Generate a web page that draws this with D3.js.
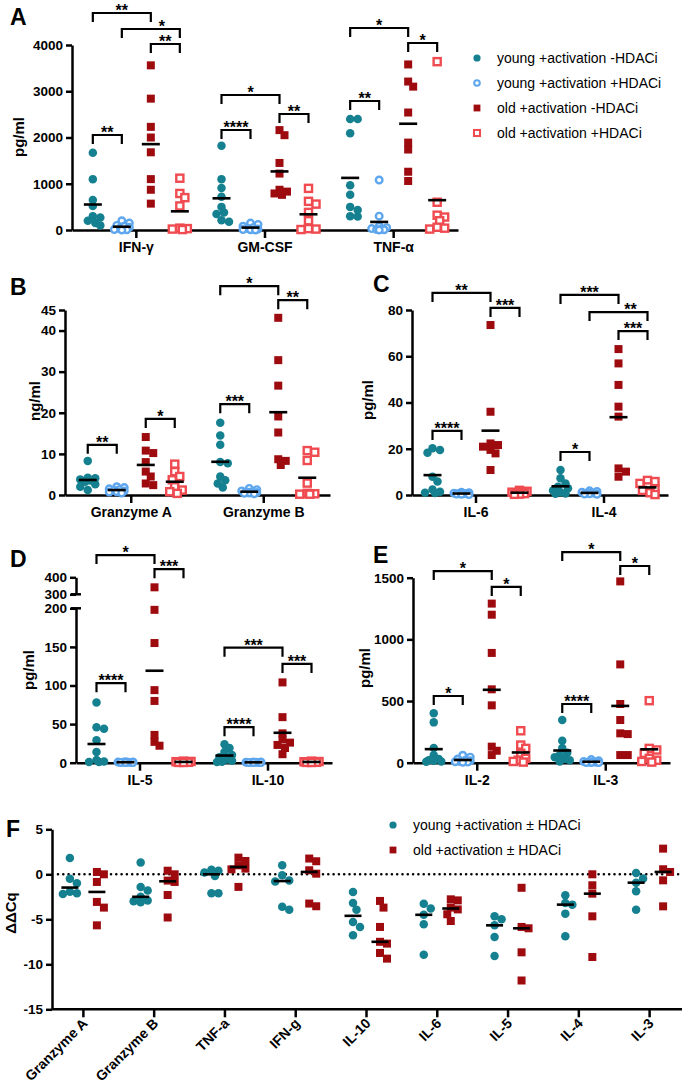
<!DOCTYPE html>
<html><head><meta charset="utf-8">
<script src="https://cdn.jsdelivr.net/npm/d3@7"></script>
<style>
body{margin:0;background:#fff;}
svg{display:block;font-family:"Liberation Sans",Arial,sans-serif;}
</style></head><body>
<svg id="chart" width="685" height="1086"></svg>
<script>
// ---------------- DATA ----------------
const groupNames = ["young +activation -HDACi","young +activation +HDACi","old +activation -HDACi","old +activation +HDACi"];
const fLegendNames = ["young +activation \u00B1 HDACi","old +activation \u00B1 HDACi"];

// Panel A (pg/ml)
const aCategories = ["IFN-\u03B3","GM-CSF","TNF-\u03B1"];
const aTicks = [0,1000,2000,3000,4000];
const aYoungMinus = [[1670,1100,650,520,300,270,200,150,100],[1820,1100,910,720,500,380,345,210,180],[2400,2400,2090,970,760,500,430,300,290]];
const aYoungPlus  = [[200,150,100,80,60,30,10,5,0],[150,120,80,50,30,20,10,5,0],[1080,300,80,50,30,20,10,5,0]];
const aOldMinus   = [[3560,2840,2230,2000,1680,1100,870,570],[2160,2050,1450,1220,870,830,790,760],[3580,3210,3100,2540,1890,1740,1260,1060]];
const aOldPlus    = [[1120,790,700,520,40,30,20,10],[900,620,560,380,200,30,20,10],[3640,600,320,280,200,60,40,20]];
const aBrackets = [[0,0,2,4692,"**"],[0,1,3,4346,"*",11],[0,2,3,4022,"**"],[0,0,1,2054,"**"],
  [1,0,2,2919,"*"],[1,0,1,2162,"****"],[1,2,3,2508,"**"],
  [2,0,2,4368,"*"],[2,2,3,4043,"*"],[2,0,1,2789,"**"]];

// Panel B (ng/ml)
const bCategories = ["Granzyme A","Granzyme B"];
const bTicks = [0,10,20,30,40,45];
const bYoungMinus = [[8.3,4.2,4.1,3.8,3.5,3.2,2.6,2.0,1.2],[17.6,14.5,12.2,8.0,7.7,4.5,3.6,2.8,1.8]];
const bYoungPlus  = [[2.0,1.8,1.5,1.3,1.2,1.0,0.8,0.7,0.5],[1.6,1.3,1.0,0.8,0.7,0.6,0.5,0.4,0.3]];
const bOldMinus   = [[14.1,10.8,10.2,8.0,5.7,4.5,2.8,2.4],[43.1,32.8,26.6,19.1,15.2,8.7,8.3,7.3]];
const bOldPlus    = [[7.5,5.7,4.5,3.7,2.0,1.2,0.8,0.4],[10.8,10.4,8.4,2.9,0.4,0.3,0.2,0.2]];
const bBrackets = [[0,0,1,12.2,"**"],[0,2,3,18.5,"*"],[1,0,2,50.8,"*"],[1,2,3,47.4,"**"],[1,0,1,22.1,"***"]];

// Panel C (pg/ml)
const cCategories = ["IL-6","IL-4"];
const cTicks = [0,20,40,60,80];
const cYoungMinus = [[20.2,19.5,18.3,7.9,5.8,2.4,1.4,1.0,0.9],[10.8,7.2,5.0,3.6,2.9,1.9,1.2,0.7,0.5]];
const cYoungPlus  = [[1.2,1.0,0.8,0.7,0.6,0.5,0.4,0.3,0.2],[1.8,1.5,1.2,1.0,0.8,0.7,0.5,0.4,0.3]];
const cOldMinus   = [[73.5,36.0,22.3,21.6,20.9,19.5,18.0,10.8],[63.1,56.9,47.6,38.2,33.9,11.5,10.1,7.9]];
const cOldPlus    = [[2.0,1.6,1.2,1.0,0.8,0.6,0.4,0.3],[6.3,5.8,5.0,3.5,2.5,2.0,1.0,0.2]];
const cBrackets = [[0,0,2,87.4,"**"],[0,2,3,80.9,"***"],[0,0,1,27.7,"****"],[1,0,2,86.5,"***"],[1,1,3,79.1,"**",12],[1,2,3,70.9,"***"],[1,0,1,18.6,"*"]];

// Panel D (pg/ml, broken axis)
const dCategories = ["IL-5","IL-10"];
const dTicksLower = [0,50,100,150,200];
const dTicksUpper = [300,400];
const dYoungMinus = [[78,46,44,29,14,3.5,1.5,1,1],[24,19,14,10,7,4.3,2.6,1.3,1]];
const dYoungPlus  = [[1.2,1.0,0.8,0.6,0.5,0.4,0.3,0.2,0.1],[1.0,0.8,0.6,0.5,0.4,0.3,0.2,0.1,0.1]];
const dOldMinus   = [[341,198,155,94,80,36,27,22],[104,59,38,30,26,23,19,11]];
const dOldPlus    = [[2.0,1.6,1.3,1.0,0.8,0.6,0.4,0.3],[2.0,1.5,1.2,1.0,0.8,0.6,0.4,0.3]];
const dBrackets = [[0,0,2,531,"*"],[0,2,3,448,"***"],[0,0,1,103,"****"],[1,0,2,149,"***"],[1,2,3,128,"***"],[1,0,1,46,"****"]];

// Panel E (pg/ml)
const eCategories = ["IL-2","IL-3"];
const eTicks = [0,500,1000,1500];
const eYoungMinus = [[400,327,120,60,30,20,15,10,8],[346,178,120,80,60,45,30,20,10]];
const eYoungPlus  = [[60,45,30,20,15,10,8,5,3],[25,15,10,8,5,3,2,1,1]];
const eOldMinus   = [[1290,1200,890,595,465,130,97,62],[1470,797,476,346,238,232,62,62]];
const eOldPlus    = [[259,143,116,76,35,20,10,5],[503,116,103,76,35,20,10,5]];
const eBrackets = [[0,0,2,1554,"*"],[0,2,3,1425,"*"],[0,0,1,541,"*"],[1,0,2,1708,"*"],[1,2,3,1595,"*"],[1,0,1,476,"****"]];

// Panel F (ddCq)
const fCategories = ["Granzyme A","Granzyme B","TNF-a","IFN-g","IL-10","IL-6","IL-5","IL-4","IL-3"];
const fTicks = [5,0,-5,-10,-15];
const fYoung = [[1.8,-0.5,-1.0,-1.95,-2.1,-2.2],[1.3,-1.4,-1.8,-2.5,-2.9,-3.0,-3.1],[0.5,0.4,0.2,-0.2,-2.1,-2.1],
  [1.0,-0.1,-0.7,-0.8,-3.6,-3.95],[-1.96,-3.19,-3.93,-5.3,-5.85,-6.78],[-3.26,-3.81,-4.5,-5.56,-8.93],
  [-4.67,-5.0,-5.67,-6.96,-9.07],[-2.33,-3.19,-3.37,-4.37,-6.89],[0.15,-0.48,-0.93,-1.89,-3.93]];
const fOld = [[0.26,0.0,-0.85,-3.07,-3.7,-5.67],[0.4,0.0,-0.7,-0.85,-2.3,-4.8],[1.85,1.48,1.0,0.63,0.55,-1.4],
  [1.75,1.45,0.45,0.07,-3.25,-3.55],[-2.96,-3.7,-5.85,-7.5,-7.7,-8.74,-9.37],[-2.78,-2.9,-3.7,-3.9,-4.44,-5.19],
  [-1.5,-5.85,-6.0,-8.67,-11.8],[0,-1.22,-2.15,-4.67,-9.19],[2.85,0.56,0.26,-0.67,-3.56]];

// ---------------- STYLE ----------------
const TEAL="#15808f", LBLUE="#5ea7ef", DRED="#9e0b0f", LRED="#ef4b50";
const STYLES=[
  {shape:"circle", fill:TEAL, stroke:"none", size:8.5},
  {shape:"circle", fill:"#fff", stroke:LBLUE, size:9},
  {shape:"square", fill:DRED, stroke:"none", size:8},
  {shape:"square", fill:"#fff", stroke:LRED, size:9.5}
];
const svg = d3.select("#chart");
const fmt = d3.format("d");

function drawMarker(sel, st, x, y, scale=1) {
  const size = st.size*scale;
  const open = st.stroke!=="none";
  const sw = 2.4*scale;
  if (st.shape==="circle") {
    sel.append("circle").attr("cx",x).attr("cy",y).attr("r", open? size/2-sw/2 : size/2)
      .attr("fill",st.fill).attr("stroke",open?st.stroke:"none").attr("stroke-width", open?sw:0);
  } else {
    const s = open? size-sw : size;
    sel.append("rect").attr("x",x-s/2).attr("y",y-s/2).attr("width",s).attr("height",s)
      .attr("fill",st.fill).attr("stroke",open?st.stroke:"none").attr("stroke-width",open?sw:0);
  }
}

// compact beeswarm: spread overlapping points sideways, limited width
function beeswarm(values, yFn, cx, minDist, step, maxOff) {
  const pts = values.map(v=>({v, y:yFn(v)})).sort((a,b)=>a.y-b.y);
  const placed=[];
  pts.forEach(p=>{
    let best = cx, bestD = -1;
    for (let k=0;k<60;k++){
      const off = k===0?0:(k%2?1:-1)*Math.ceil(k/2)*step;
      if (Math.abs(off)>maxOff) break;
      const x = cx+off;
      const d = placed.length? d3.min(placed,q=>Math.hypot(q.x-x,q.y-p.y)) : Infinity;
      if (d>=minDist) { best=x; bestD=d; break; }
      if (d>bestD) { bestD=d; best=x; }
    }
    p.x = best;
    placed.push(p);
  });
  return placed;
}

function styleAxis(g, fs) {
  g.attr("font-family", null).attr("font-size", null);
  g.selectAll("path.domain").attr("stroke","#000").attr("stroke-width",2.5);
  g.selectAll(".tick line").attr("stroke","#000").attr("stroke-width",2.5);
  g.selectAll(".tick text").attr("fill","#000").style("font-size",fs+"px").style("font-weight","bold");
}

function panelLetter(t,x,y){
  svg.append("text").attr("x",x).attr("y",y).text(t).style("font-size","23px").style("font-weight","bold");
}
function yLabel(t,x,y){
  svg.append("text").attr("transform",`translate(${x},${y}) rotate(-90)`).attr("text-anchor","middle")
    .text(t).style("font-size","15px").style("font-weight","bold");
}

function drawPanel(cfg){
  const g = svg.append("g");
  const xb = d3.scaleBand().domain(cfg.categories).range([cfg.x0,cfg.x1]);
  const cx = c => xb(c)+xb.bandwidth()/2;
  const y = cfg.y;
  const axisY = y(0);
  const step = 29;
  const offs = [-1.5,-0.5,0.5,1.5];
  cfg.yAxes.forEach(a=>{
    const ga = g.append("g").attr("transform",`translate(${cfg.x0},0)`)
      .call(d3.axisLeft(a.scale).tickValues(a.ticks).tickFormat(fmt).tickSize(6).tickSizeOuter(0).tickPadding(3));
    styleAxis(ga,13.5);
  });
  const gx = g.append("g").attr("transform",`translate(0,${axisY})`)
    .call(d3.axisBottom(xb).tickSize(8).tickSizeOuter(0));
  styleAxis(gx,14);
  gx.selectAll(".tick text").attr("y",22).attr("dy","0");
  if (cfg.breaks) cfg.breaks.forEach(v=>{
    g.append("line").attr("x1",cfg.x0-5).attr("x2",cfg.x0+5).attr("y1",y(v)).attr("y2",y(v))
      .attr("stroke","#000").attr("stroke-width",2.5);
  });
  cfg.brackets.forEach(([ci,g1,g2,lv,lab,dx])=>{
    const c = cfg.categories[ci];
    const xa = cx(c)+offs[g1]*step, xe = cx(c)+offs[g2]*step, yy = y(lv);
    g.append("path").attr("d",`M${xa},${yy+9}V${yy}H${xe}V${yy+9}`)
      .attr("fill","none").attr("stroke","#000").attr("stroke-width",2.2);
    g.append("text").attr("x",(xa+xe)/2+(dx||0)).attr("y",yy+3).attr("text-anchor","middle")
      .text(lab).style("font-size","16px").style("font-weight","bold");
  });
  cfg.groups.forEach((arr,gi)=>{
    cfg.categories.forEach((c,ci)=>{
      const x0 = cx(c)+offs[gi]*step;
      const pts = beeswarm(arr[ci], y, x0, 6, 2.5, 9);
      pts.forEach(p=>drawMarker(g, STYLES[gi], p.x, p.y));
    });
  });
  cfg.groups.forEach((arr,gi)=>{
    cfg.categories.forEach((c,ci)=>{
      const m = d3.mean(arr[ci]);
      const x0 = cx(c)+offs[gi]*step;
      g.append("line").attr("x1",x0-9).attr("x2",x0+9).attr("y1",y(m)).attr("y2",y(m))
        .attr("stroke","#000").attr("stroke-width",2.6);
    });
  });
}

// ---- Panel A
const yA = d3.scaleLinear().domain([0,4000]).range([230,45]);
drawPanel({categories:aCategories, x0:72, x1:458, y:yA, yAxes:[{scale:yA,ticks:aTicks}],
  groups:[aYoungMinus,aYoungPlus,aOldMinus,aOldPlus], brackets:aBrackets});
panelLetter("A",10,25); yLabel("pg/ml",24,137);
groupNames.forEach((n,i)=>{
  const yy = 58 + i*25;
  drawMarker(svg, STYLES[i], 477, yy, 0.85);
  svg.append("text").attr("x",497).attr("y",yy+5).text(n).style("font-size","14px");
});

// ---- Panel B
const yB = d3.scaleLinear().domain([0,45]).range([495,310]);
drawPanel({categories:bCategories, x0:65, x1:330, y:yB, yAxes:[{scale:yB,ticks:bTicks}],
  groups:[bYoungMinus,bYoungPlus,bOldMinus,bOldPlus], brackets:bBrackets});
panelLetter("B",10,295); yLabel("ng/ml",40,401);

// ---- Panel C
const yC = d3.scaleLinear().domain([0,80]).range([495,310]);
drawPanel({categories:cCategories, x0:412, x1:668, y:yC, yAxes:[{scale:yC,ticks:cTicks}],
  groups:[cYoungMinus,cYoungPlus,cOldMinus,cOldPlus], brackets:cBrackets});
panelLetter("C",373,292); yLabel("pg/ml",373,400);

// ---- Panel D (broken axis)
const yDlow = d3.scaleLinear().domain([0,200]).range([762.7,608.3]);
const yDup = d3.scaleLinear().domain([300,400]).range([594.3,577.3]);
const yD = v => v<=250 ? yDlow(v) : yDup(v);
drawPanel({categories:dCategories, x0:76, x1:332, y:yD,
  yAxes:[{scale:yDlow,ticks:dTicksLower},{scale:yDup,ticks:dTicksUpper}], breaks:[200,300],
  groups:[dYoungMinus,dYoungPlus,dOldMinus,dOldPlus], brackets:dBrackets});
panelLetter("D",10,567); yLabel("pg/ml",34,670);

// ---- Panel E
const yE = d3.scaleLinear().domain([0,1500]).range([762.7,577.7]);
drawPanel({categories:eCategories, x0:413, x1:670, y:yE, yAxes:[{scale:yE,ticks:eTicks}],
  groups:[eYoungMinus,eYoungPlus,eOldMinus,eOldPlus], brackets:eBrackets});
panelLetter("E",373,563); yLabel("pg/ml",370,668);

// ---- Panel F
(function(){
  const g = svg.append("g");
  const yF = d3.scaleLinear().domain([-15,5]).range([1009.3,829.3]);
  const xF = d3.scaleBand().domain(fCategories).range([48,685]);
  const cx = c => xF(c)+xF.bandwidth()/2;
  const x0 = 52, x1 = 682;
  const ga = g.append("g").attr("transform",`translate(${x0},0)`)
    .call(d3.axisLeft(yF).tickValues(fTicks).tickFormat(fmt).tickSize(6).tickSizeOuter(0).tickPadding(3));
  styleAxis(ga,13.5);
  ga.selectAll(".tick text").text(d=>d<0? "-"+Math.abs(d) : d);
  const gx = g.append("g").attr("transform",`translate(0,${yF(-15)})`)
    .call(d3.axisBottom(xF).tickSize(8).tickSizeOuter(0));
  styleAxis(gx,14);
  gx.select("path.domain").remove();
  g.append("line").attr("x1",x0).attr("x2",x1).attr("y1",yF(-15)).attr("y2",yF(-15))
    .attr("stroke","#000").attr("stroke-width",2.5);
  gx.selectAll(".tick text").attr("y",0).attr("dy","0").attr("text-anchor","end")
    .attr("transform","translate(5,15) rotate(-45)");
  g.append("line").attr("x1",x0+6).attr("x2",x1).attr("y1",yF(0)).attr("y2",yF(0))
    .attr("stroke","#000").attr("stroke-width",2.6).attr("stroke-linecap","round")
    .attr("stroke-dasharray","0 5.3");
  const sets = [[fYoung,STYLES[0],-13.5],[fOld,STYLES[2],13.5]];
  sets.forEach(([arr,st,off])=>{
    fCategories.forEach((c,ci)=>{
      const pts = beeswarm(arr[ci], yF, cx(c)+off, 7.5, 3.5, 10);
      pts.forEach(p=>drawMarker(g, st, p.x, p.y));
    });
  });
  sets.forEach(([arr,st,off])=>{
    fCategories.forEach((c,ci)=>{
      const m = d3.median(arr[ci]);
      const xx = cx(c)+off;
      g.append("line").attr("x1",xx-8.5).attr("x2",xx+8.5).attr("y1",yF(m)).attr("y2",yF(m))
        .attr("stroke","#000").attr("stroke-width",2.6);
    });
  });
  panelLetter("F",6,837); yLabel("\u0394\u0394Cq",16,913);
  [STYLES[0],STYLES[2]].forEach((st,i)=>{
    const yy = 825 + i*25;
    drawMarker(svg, st, 393, yy, 0.85);
    svg.append("text").attr("x",413).attr("y",yy+5).text(fLegendNames[i]).style("font-size","14px");
  });
})();
</script>
</body></html>
